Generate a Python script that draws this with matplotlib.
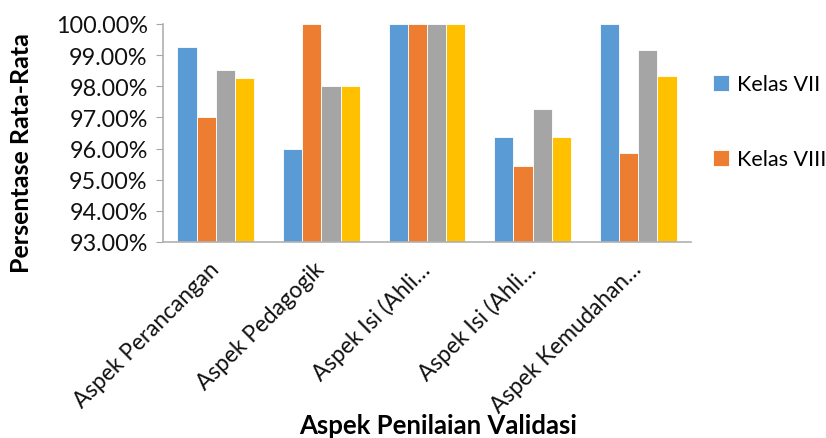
import numpy as np
import matplotlib
matplotlib.use("Agg")
import matplotlib.pyplot as plt
from matplotlib.ticker import FuncFormatter

plt.rcParams["font.family"] = ["Lato", "DejaVu Sans"]

# Data (percent)
categories = ["Aspek Perancangan", "Aspek Pedagogik", "Aspek Isi (Ahli…",
              "Aspek Isi (Ahli…", "Aspek Kemudahan…"]
series_names = ["Kelas VII", "Kelas VIII", "Kelas IX", "Rata-rata"]
kelas_vii = [99.25, 96.00, 100.00, 96.37, 100.00]
kelas_viii = [97.02, 100.00, 100.00, 95.44, 95.87]
kelas_ix = [98.52, 98.00, 100.00, 97.28, 99.18]
rata = [98.27, 98.00, 100.00, 96.37, 98.33]
colors = ["#5B9BD5", "#ED7D31", "#A5A5A5", "#FFC000"]

fig = plt.figure(figsize=(8.26, 4.39), dpi=100)
ax = fig.add_axes([0.1973, 0.4465, 0.6393, 0.4966])

x = np.arange(len(categories))
width = 0.182
bars = []
for i, (vals, name, c) in enumerate(zip([kelas_vii, kelas_viii, kelas_ix, rata],
                                        series_names, colors)):
    offset = (i - 1.5) * width
    b = ax.bar(x + offset, np.array(vals) - 93, width, bottom=93, color=c,
               edgecolor="white", linewidth=0.6, label=name, zorder=2)
    bars.append(b)

ax.set_xlim(-0.5, len(categories) - 0.5)
ax.set_ylim(93, 100)
ax.set_yticks(np.arange(93, 100.5, 1))
ax.yaxis.set_major_formatter(FuncFormatter(lambda v, p: f"{v:.2f}%"))
ax.tick_params(axis="y", labelsize=16.8, length=5, color="#a6a6a6", pad=6,
               labelcolor="#111111")
ax.set_xticks(x)
ax.set_xticklabels(categories, rotation=45, ha="right", va="center",
                   rotation_mode="anchor", fontsize=16.3, color="#111111")
ax.tick_params(axis="x", length=0, pad=17)
for lbl in ax.get_xticklabels():
    lbl.set_x(lbl.get_position()[0])

for s in ["top", "right"]:
    ax.spines[s].set_visible(False)
for s in ["left", "bottom"]:
    ax.spines[s].set_color("#b0b0b0")
    ax.spines[s].set_linewidth(1.2)

fig.text(22 / 826, 1 - 153 / 439, "Persentase Rata-Rata", fontsize=18,
         fontweight="bold", rotation=90, ha="center", va="center")
fig.text(438 / 826, 1 - 426 / 439, "Aspek Penilaian Validasi", fontsize=18.5,
         fontweight="bold", ha="center", va="center")

# legend only shows the first two entries (truncated in original)
ax.legend(handles=[bars[0], bars[1]], loc="upper left",
          bbox_to_anchor=(0.853, 0.848), bbox_transform=fig.transFigure,
          frameon=False, fontsize=15.5, labelspacing=2.55, handlelength=0.75,
          handleheight=0.75, handletextpad=0.35, borderaxespad=0)

fig.savefig("out.png", dpi=100)
